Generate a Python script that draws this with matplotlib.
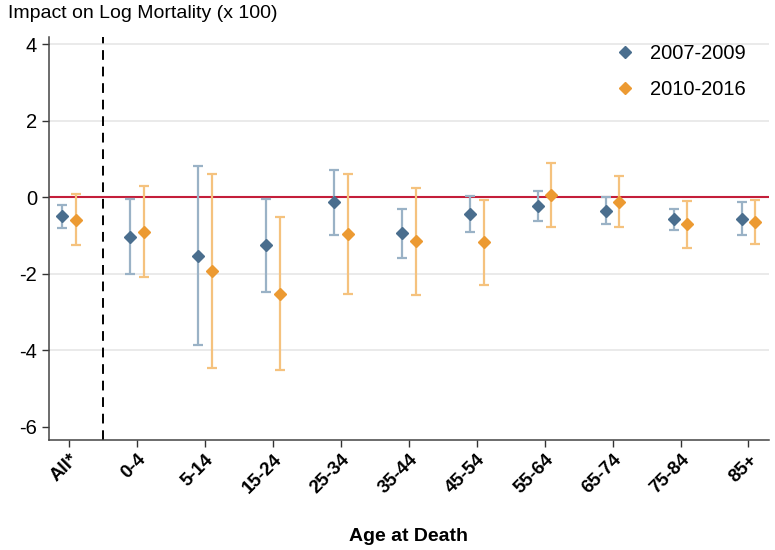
import matplotlib.pyplot as plt
import numpy as np

plt.rcParams['font.family'] = ['Liberation Sans', 'DejaVu Sans']

ages = ['All*', '0-4', '5-14', '15-24', '25-34', '35-44', '45-54',
        '55-64', '65-74', '75-84', '85+']

# 2007-2009 estimates and 95% CI
est_0709 = [-0.49, -1.02, -1.52, -1.25, -0.12, -0.94, -0.43, -0.22, -0.34, -0.57, -0.55]
lo_0709 = [-0.81, -2.00, -3.85, -2.47, -0.98, -1.58, -0.89, -0.62, -0.69, -0.85, -0.97]
hi_0709 = [-0.20, -0.03, 0.82, -0.03, 0.73, -0.30, 0.03, 0.18, 0.01, -0.30, -0.13]

# 2010-2016 estimates and 95% CI
est_1016 = [-0.58, -0.89, -1.92, -2.51, -0.95, -1.15, -1.16, 0.07, -0.11, -0.70, -0.63]
lo_1016 = [-1.24, -2.08, -4.47, -4.50, -2.53, -2.54, -2.28, -0.77, -0.78, -1.32, -1.22]
hi_1016 = [0.08, 0.31, 0.62, -0.51, 0.62, 0.25, -0.06, 0.89, 0.57, -0.10, -0.06]

blue, blue_ci = '#4a6e8e', '#9ab2c6'
orange, orange_ci = '#ec9a32', '#f5c27e'

fig = plt.figure(figsize=(7.75, 5.5), dpi=100)
ax = fig.add_axes([0.063, 0.2, 0.929, 0.733])

x = np.arange(len(ages))
off = 0.1

def draw(xs, est, lo, hi, col, cicol, lab):
    est = np.array(est)
    err = [est - np.array(lo), np.array(hi) - est]
    ax.errorbar(xs, est, yerr=err, fmt='none', ecolor=cicol, elinewidth=1.6,
                capsize=3.8, capthick=1.6, zorder=3)
    ax.plot(xs, est, 'D', color=col, markersize=6.5, linestyle='none',
            label=lab, zorder=4)

for yv in [4, 2, -2, -4]:
    ax.axhline(yv, color='#e6e6e6', linewidth=1.2, zorder=0)
ax.axhline(0, color='#c41e3a', linewidth=1.5, zorder=2)
ax.axvline(0.5, color='black', linewidth=1.4, linestyle=(0, (5, 3.5)), zorder=2)

draw(x - off, est_0709, lo_0709, hi_0709, blue, blue_ci, '2007-2009')
draw(x + off, est_1016, lo_1016, hi_1016, orange, orange_ci, '2010-2016')

ax.set_xlim(-0.3, 10.3)
ax.set_ylim(-6.34, 4.2)
ax.set_yticks([4, 2, 0, -2, -4, -6])
ax.set_yticklabels(['4', '2', '0', '-2', '-4', '-6'], fontsize=14.5)
ax.set_xticks(x)
ax.set_xticklabels(ages, rotation=45, ha='right', rotation_mode='anchor',
                   fontsize=13.5, fontweight='bold')
ax.tick_params(axis='both', length=5, width=1, color='#333333')
ax.tick_params(axis='x', pad=3)

for s in ['top', 'right']:
    ax.spines[s].set_visible(False)
for s in ['left', 'bottom']:
    ax.spines[s].set_color('#444444')
    ax.spines[s].set_linewidth(1.1)

ax.set_xlabel('Age at Death', fontsize=14, fontweight='bold', labelpad=22)
fig.text(0.01, 0.99, 'Impact on Log Mortality (x 100)', fontsize=14,
         ha='left', va='top')

ax.legend(loc='upper right', frameon=False, fontsize=14.5, handletextpad=0.55,
          labelspacing=0.85, borderaxespad=0.4, handlelength=1.4,
          bbox_to_anchor=(0.99, 1.022))

fig.savefig('out.png', dpi=100)
